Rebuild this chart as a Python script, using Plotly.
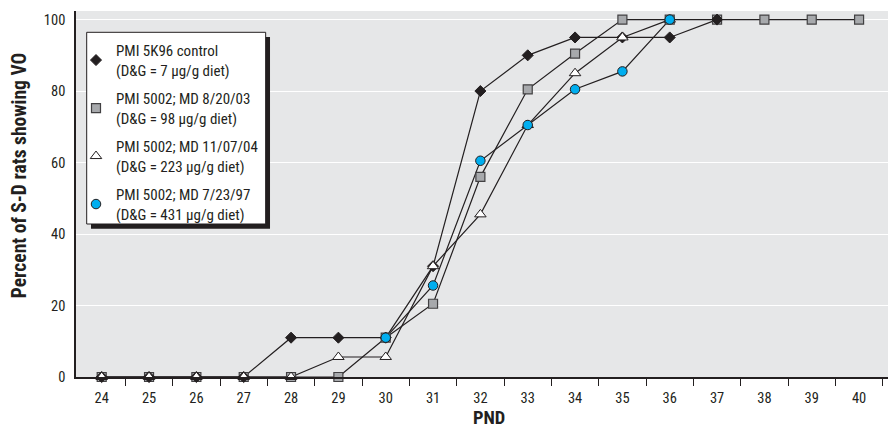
import plotly.graph_objects as go

pnd = list(range(24, 41))
tick_labels = [str(v) for v in pnd]
y_ticks = [0, 20, 40, 60, 80, 100]

# Series values (percent of S-D rats showing VO)
x_5k96 = [24, 25, 26, 27, 28, 29, 30, 31, 32, 33, 34, 35, 36, 37]
y_5k96 = [0, 0, 0, 0, 11, 11, 11, 31, 80, 90, 95, 95, 95, 100]

x_820 = [24, 25, 26, 27, 28, 29, 30, 31, 32, 33, 34, 35, 36, 37, 38, 39, 40]
y_820 = [0, 0, 0, 0, 0, 0, 11, 20.5, 56, 80.5, 90.5, 100, 100, 100, 100, 100, 100]

x_1107 = [24, 25, 26, 27, 28, 29, 30, 31, 32, 33, 34, 35, 36]
y_1107 = [0, 0, 0, 0, 0, 5.6, 5.6, 31, 45.5, 70.5, 85, 95, 100]

x_723 = [30, 31, 32, 33, 34, 35, 36]
y_723 = [11, 25.6, 60.5, 70.5, 80.5, 85.5, 100]

names = [
    "PMI 5K96 control<br>(D&G = 7 μg/g diet)",
    "PMI 5002; MD 8/20/03<br>(D&G = 98 μg/g diet)",
    "PMI 5002; MD 11/07/04<br>(D&G = 223 μg/g diet)",
    "PMI 5002; MD 7/23/97<br>(D&G = 431 μg/g diet)",
]

FONT = "Roboto Condensed, Liberation Sans Narrow, Arial Narrow, sans-serif"
TXT = "#231f20"

series = [
    (x_5k96, y_5k96, dict(symbol="diamond", size=8.5, color="#231f20", line=dict(color="#231f20", width=1))),
    (x_820, y_820, dict(symbol="square", size=9, color="#a7a9ac", line=dict(color="#414042", width=1.2))),
    (x_1107, y_1107, dict(symbol="triangle-up", size=10, color="white", line=dict(color="#231f20", width=1))),
    (x_723, y_723, dict(symbol="circle", size=9.5, color="#00aeef", line=dict(color="#231f20", width=1))),
]

fig = go.Figure()
for xs, ys, mk in series:
    fig.add_trace(go.Scatter(x=xs, y=ys, mode="lines", showlegend=False,
                             line=dict(color="#231f20", width=1.2), cliponaxis=False,
                             hoverinfo="skip"))
draw_order = [1, 0, 2, 3]
for i in draw_order:
    xs, ys, mk = series[i]
    fig.add_trace(go.Scatter(x=xs, y=ys, mode="markers", name=names[i], marker=mk,
                             cliponaxis=False, legendrank=i + 1, legendgroup="g%d" % i))

# Legend box with drop shadow
fig.add_shape(type="rect", xref="paper", yref="paper", x0=0.0183, x1=0.2366, y0=0.4052, y1=0.929,
              fillcolor="#231f20", line=dict(width=0), layer="above")
fig.add_shape(type="rect", xref="paper", yref="paper", x0=0.01305, x1=0.2313, y0=0.418, y1=0.9418,
              fillcolor="white", line=dict(color="#231f20", width=1), layer="above")

fig.add_annotation(text="<b>Percent of S-D rats showing VO</b>", textangle=-90,
                   xref="paper", yref="paper", x=-0.068, y=0.552, xanchor="center", yanchor="middle",
                   showarrow=False, font=dict(family=FONT, size=19.5, color=TXT))
fig.add_annotation(text="<b>PND</b>", xref="paper", yref="paper", x=0.5037, y=-0.112,
                   xanchor="center", yanchor="middle", showarrow=False,
                   font=dict(family=FONT, size=18.5, color=TXT))

# The page body adds an 8px offset; the figure is sized to fill the rest of the window.
fig.update_layout(
    width=888, height=421,
    margin=dict(l=68, r=0, t=3, b=52),
    paper_bgcolor="white",
    plot_bgcolor="#e6e7e8",
    font=dict(family=FONT, size=14, color=TXT),
    legend=dict(x=0.0, y=0.937, xanchor="left", yanchor="top",
                bgcolor="rgba(0,0,0,0)", borderwidth=0,
                font=dict(family=FONT, size=15, color=TXT),
                tracegroupgap=6, itemsizing="trace"),
    xaxis=dict(range=[23.457, 40.78], tickvals=pnd, ticktext=tick_labels, ticks="",
               showgrid=False, zeroline=False, showline=True, linecolor="#231f20", linewidth=1.5,
               tickfont=dict(family=FONT, size=14.5, color=TXT), ticklabelstandoff=7,
               minor=dict(tickvals=[v + 0.5 for v in pnd], ticks="outside", ticklen=7,
                          tickcolor="#231f20", tickwidth=1, showgrid=False)),
    yaxis=dict(range=[0, 102.4], tickvals=y_ticks, ticks="",
               showgrid=True, gridcolor="white", gridwidth=1, zeroline=False,
               showline=True, linecolor="#231f20", linewidth=1.5,
               tickfont=dict(family=FONT, size=14.5, color=TXT), ticklabelstandoff=6),
)

fig.write_html("out.html")
